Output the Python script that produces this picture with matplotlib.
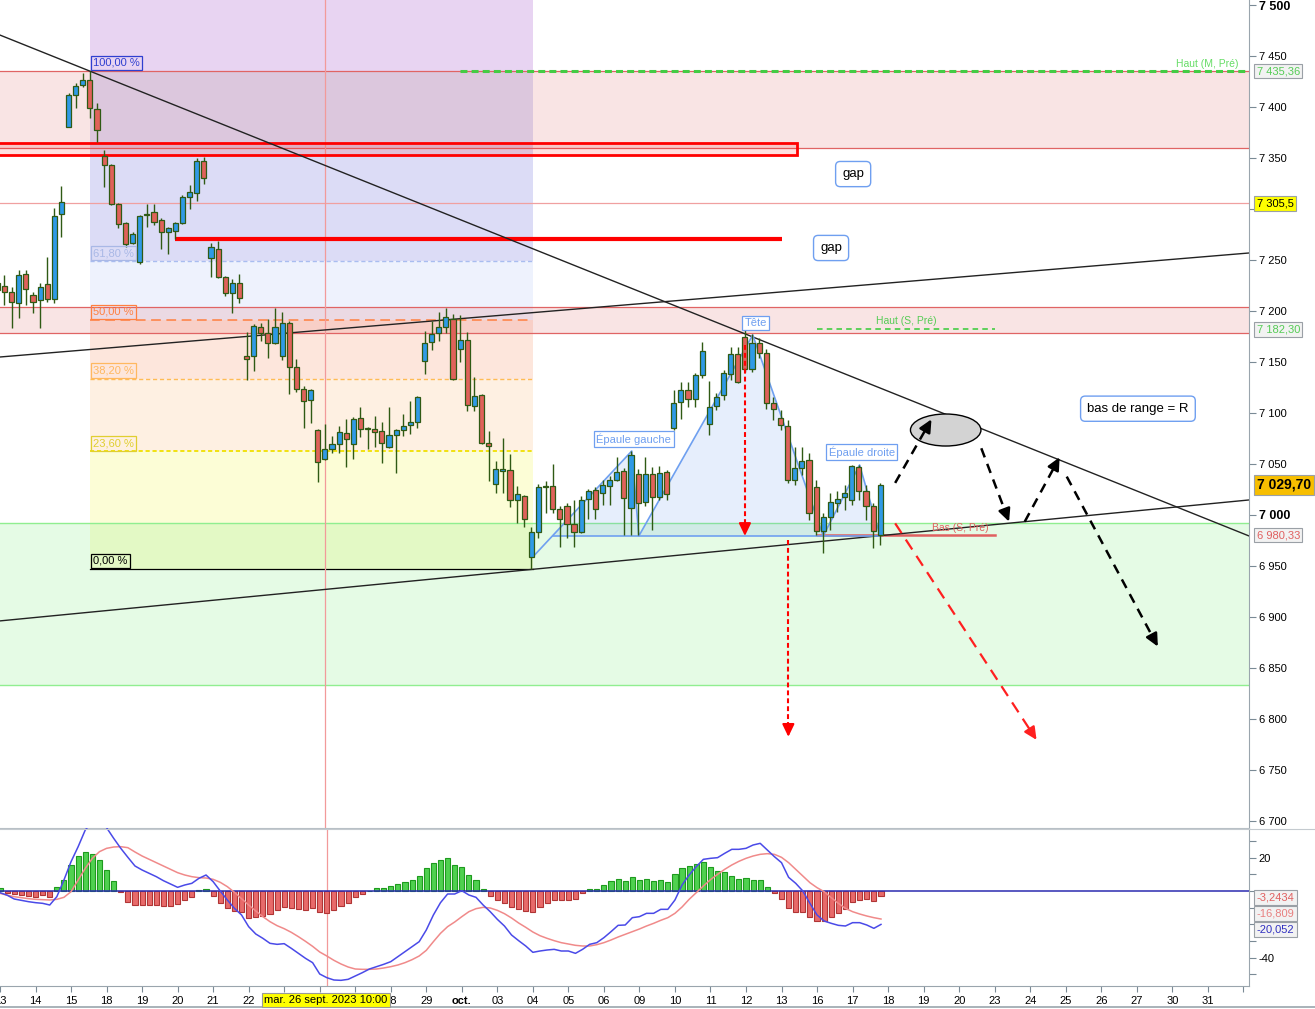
import numpy as np
import matplotlib
matplotlib.use("Agg")
import matplotlib.pyplot as plt
from matplotlib.patches import Rectangle, Polygon, Ellipse
from matplotlib.lines import Line2D

plt.rcParams['font.family'] = ['Liberation Sans', 'DejaVu Sans']
plt.rcParams['lines.scale_dashes'] = False

# ---------------- data (CAC 40, 2h candles, 5 per day) ----------------
# 25, 26 and 27 sept sit under the crosshair date box in the original
day_labels = ['13', '14', '15', '18', '19', '20', '21', '22', '', '', '', '28', '29',
              'oct.', '03', '04', '05', '06', '09', '10', '11', '12', '13', '16', '17',
              '18', '19', '20', '23', '24', '25', '26', '27', '30', '31']
bars_per_day = 5

opens = [7227, 7225, 7219, 7208, 7236, 7216, 7211, 7226, 7212, 7295,
         7380, 7412, 7422, 7427, 7398, 7352, 7343, 7305, 7286, 7267,
         7248, 7294, 7297, 7289, 7277, 7278, 7286, 7312, 7316, 7347,
         7252, 7261, 7233, 7218, 7227, 7156, 7156, 7184, 7178, 7169,
         7156, 7188, 7145, 7124, 7113, 7083, 7055, 7065, 7070, 7080,
         7070, 7095, 7084, 7084, 7082, 7067, 7078, 7083, 7088, 7091,
         7151, 7170, 7178, 7184, 7192, 7163, 7172, 7107, 7118, 7071,
         7030, 7043, 7044, 7015, 7019, 6959, 6983, 7027, 7028, 7006,
         7009, 6991, 6983, 7016, 7024, 7022, 7028, 7034, 7043, 7007,
         7040, 7013, 7040, 7018, 7042, 7085, 7111, 7123, 7114, 7137,
         7089, 7107, 7118, 7138, 7158, 7175, 7143, 7169, 7159, 7110,
         7095, 7087, 7034, 7046, 7054, 7027, 6984, 6998, 7012, 7018,
         7015, 7047, 7023, 7009, 6980]
highs = [7230, 7235, 7224, 7240, 7240, 7219, 7227, 7253, 7301, 7323,
         7414, 7424, 7433, 7435, 7404, 7358, 7344, 7306, 7287, 7277,
         7294, 7305, 7305, 7291, 7282, 7287, 7314, 7324, 7350, 7351,
         7267, 7269, 7234, 7231, 7236, 7179, 7187, 7188, 7192, 7203,
         7199, 7190, 7153, 7126, 7124, 7084, 7089, 7077, 7087, 7094,
         7096, 7106, 7086, 7097, 7091, 7106, 7084, 7099, 7112, 7117,
         7180, 7190, 7199, 7203, 7197, 7196, 7179, 7135, 7119, 7082,
         7053, 7075, 7060, 7028, 7020, 6988, 7030, 7033, 7050, 7009,
         7012, 7015, 7019, 7025, 7027, 7034, 7038, 7057, 7046, 7063,
         7045, 7057, 7047, 7048, 7044, 7123, 7130, 7130, 7139, 7170,
         7131, 7120, 7142, 7165, 7165, 7182, 7177, 7174, 7163, 7116,
         7103, 7093, 7067, 7067, 7061, 7034, 7002, 7022, 7023, 7029,
         7049, 7049, 7029, 7012, 7031]
lows = [7211, 7206, 7183, 7193, 7206, 7198, 7183, 7209, 7208, 7273,
        7380, 7399, 7420, 7389, 7366, 7322, 7304, 7281, 7263, 7266,
        7246, 7282, 7284, 7261, 7256, 7271, 7285, 7300, 7308, 7325,
        7233, 7232, 7215, 7198, 7208, 7132, 7141, 7171, 7154, 7168,
        7152, 7119, 7121, 7085, 7090, 7032, 7054, 7061, 7061, 7047,
        7055, 7076, 7065, 7067, 7051, 7066, 7041, 7077, 7079, 7085,
        7138, 7162, 7171, 7178, 7132, 7150, 7102, 7102, 7070, 7033,
        7022, 7022, 7008, 6992, 6988, 6947, 6977, 7002, 7002, 6969,
        6977, 6969, 6982, 6996, 6996, 7010, 7010, 7033, 6980, 6980,
        6980, 7009, 6985, 7015, 7015, 7083, 7094, 7106, 7106, 7134,
        7078, 7103, 7113, 7132, 7129, 7140, 7140, 7154, 7104, 7093,
        7083, 7031, 7029, 7039, 6995, 6980, 6963, 6985, 7003, 7005,
        7010, 7015, 6995, 6968, 6971]
closes = [7221, 7219, 7209, 7235, 7222, 7209, 7224, 7212, 7293, 7307,
          7412, 7421, 7427, 7399, 7378, 7343, 7305, 7285, 7266, 7276,
          7293, 7295, 7287, 7277, 7281, 7286, 7312, 7317, 7347, 7330,
          7263, 7233, 7218, 7227, 7213, 7153, 7185, 7178, 7169, 7184,
          7188, 7145, 7124, 7112, 7123, 7052, 7065, 7070, 7081, 7074,
          7094, 7084, 7085, 7081, 7071, 7078, 7083, 7087, 7091, 7116,
          7169, 7177, 7184, 7194, 7133, 7172, 7108, 7117, 7071, 7068,
          7045, 7045, 7015, 7021, 6996, 6983, 7027, 7028, 7006, 6996,
          6991, 6983, 7015, 7023, 7006, 7029, 7034, 7042, 7017, 7059,
          7012, 7040, 7018, 7041, 7021, 7110, 7123, 7114, 7137, 7161,
          7106, 7116, 7139, 7158, 7130, 7143, 7169, 7159, 7110, 7104,
          7088, 7034, 7046, 7053, 7002, 6984, 6998, 7013, 7016, 7022,
          7048, 7023, 7009, 6984, 7029.7]

macd_hist = [1.6, -1.4, -2, -2.4, -3, -3.4, -2.6, -3.4,
             2.2, 6.4, 15.6, 21, 23.2, 22, 18.4, 12.4, 5.8,
             -0.8, -6.4, -8.6, -8.6, -8.6, -8.6, -9.2, -9.2, -8, -5.6, -3.8,
             0.4, 1.2,
             -3, -7, -10.4, -11.8, -12.6, -16.4, -15.8, -14.8, -14, -11.4, -9.4,
             -10, -11, -11.4, -10.4, -12.8, -13.4, -11.4, -9, -7, -3.8, -1.8,
             0,
             1.6, 1.6, 3, 4.2, 5.4, 6.4, 9, 13.6, 16.6, 18.6, 19.6,
             15.6, 14.6, 9.6, 6.4, 1.2,
             -2.8, -5.6, -7.4, -9.8, -10.6, -11.8, -12.8, -9.4, -7, -5.6, -5.2, -5.2, -4.6, -1.4,
             1.2, 1.2, 3.4, 6, 7, 5.8, 8.4, 6.6, 7, 5.8, 6.4, 5.2, 10, 13.8, 15, 16.4,
             17.2, 14.2, 12, 11.2, 9, 7, 7.6, 6.4, 6.4, 2.4,
             -1.4, -5, -10.4, -12.6, -12.6, -15.8, -18.2, -18.2, -15.8, -13.4, -11,
             -6.8, -5.6, -5, -6.2, -3.24]
macd_line = [-1, -2.5, -4.8, -5.6, -6.4, -7, -7.4, -8.4,
             -3.4, 6.6, 17.6, 26.6, 36.6, 41.6, 42, 38,
             31.6, 25.6, 20.2, 15, 12.6, 10.6, 8.6, 6.2, 4.2, 2.2, 3.6, 4.6, 7.6, 9.6, 5.6, 0,
             -5.4, -10.4, -14.4, -21.4, -25.8, -28.4, -31.4, -32, -31.6, -34.4, -37.4, -40.4, -43, -49.8, -52, -53.4,
             -53.6, -53, -51, -49, -46.8, -45.4, -44, -42.4, -39.4, -36.4, -33.4, -30.4, -23.4, -14.4, -7, -1.8,
             -1.8, 0.2, -2.4, -3.8, -8.4, -12.4, -17, -21, -26.4, -29.8, -33, -36.8, -36, -35.4, -35, -36,
             -36, -37.4, -35, -32, -31, -28, -24.4, -20.6, -20.4, -16, -15.4, -13.4, -13.4, -11, -11, -5.4,
             3.6, 9.6, 14.6, 19, 19.6, 20, 22.6, 25, 25, 25.6, 27.6, 28.6, 24.6, 20.6, 17, 8.2,
             4.6, 0, -7.4, -14.4, -18, -19.4, -20.6, -21, -19, -19, -20.4, -22.4, -20.05]
signal_line = [-1.4, -2.5, -3.4, -4, -4.6, -5, -5.2, -5.4,
               -5, -3.8, -0.4, 6.6, 13.6, 19.6, 23.6, 25.6,
               26.4, 26.6, 26, 23.4, 21, 19, 17, 15, 13, 11, 9.6, 8.6, 8, 7.8, 7, 5.2,
               2.6, -0.8, -4.6, -8.4, -12, -15.4, -18.4, -20.8, -22.6, -24.8, -27.4, -30.2, -33.2, -36.6, -39, -41.6,
               -43.8, -45.6, -46.8, -47, -47, -46.8, -46.2, -45.4, -44.4, -43, -41.2, -39, -35.6, -30.4, -25.4, -21.4,
               -18.6, -15.4, -12.4, -10.6, -9.8, -10.2, -11.6, -13.6, -16.2, -19.2, -21.8, -24.6, -26.8, -28.4, -29.8, -31,
               -31.8, -32.6, -33, -33, -32.2, -31, -29.4, -27.6, -26, -24.4, -22.8, -21, -19.4, -17.6, -16, -13.4,
               -9.6, -5, -1, 3, 6.8, 10, 13, 15.6, 17.8, 19.6, 21, 22, 22.4, 22, 20.2, 17,
               13, 9, 5, 2, -0.4, -4, -7.4, -10.4, -12.4, -13.8, -15, -16, -16.81]

# levels / drawings (price units, x in bar index)
haut_m, haut_s, bas_s, last_close = 7435.36, 7182.30, 6980.33, 7029.70
level_7305 = 7305.5
fib_top, fib_bottom = 7435.36, 6947
fib_ratios = [1.0, 0.618, 0.5, 0.382, 0.236, 0.0]
fib_names = ['100,00 %', '61,80 %', '50,00 %', '38,20 %', '23,60 %', '0,00 %']
fib_x = (13.0, 75.2)
pink_zones = [(7360, 7435.36), (7178.4, 7204)]
green_zone = (6833, 6992)
gap_rect = (7353, 7365, 112.3)
gap_line = (7270.6, 24.9, 110.2)
trend_lines = [[(0.37, 7470.6), (175.8, 6979.4)],
               [(0.37, 7154.9), (175.8, 7256.9)],
               [(0.37, 6896.1), (175.8, 7014.7)]]
hs_points = [(75.2, 6958.8), (89.1, 7062.7), (90.1, 6979.4), (106.1, 7176.5),
             (116.0, 6979.4), (121.1, 7049), (124.0, 6979.4), (78.0, 6979.4)]
crosshair_x = 46.0
# the three MACD value tags are stacked on the scale, not at their exact values
macd_tag_pos = [-3.8, -13.3, -23.3]

# ---------------- figure ----------------
W, H = 1315, 1009
fig = plt.figure(figsize=(W / 100, H / 100), dpi=100)
ax = fig.add_axes([0, 1 - 828 / H, 1249 / W, 828 / H])
ax2 = fig.add_axes([0, 1 - 986 / H, 1249 / W, 158 / H])
xlim = (0.37, 175.8)
for a in (ax, ax2):
    a.set_xlim(*xlim)
    a.set_facecolor('white')
    for s in ('left', 'top', 'bottom'):
        a.spines[s].set_visible(False)
    a.spines['right'].set_color('#9aa5ad')
    a.yaxis.tick_right()
    a.tick_params(axis='y', length=5, width=0.8, color='#7a8a95', pad=2, labelsize=8)
ax.set_ylim(6693, 7505)
ax2.set_ylim(-57, 37.8)
ax.set_xticks([])
ax2.spines['top'].set_visible(True)
ax2.spines['top'].set_color('#b8c0c6')
ax2.spines['bottom'].set_visible(True)
ax2.spines['bottom'].set_color('#9aa5ad')

# frame lines running into the scale area
fig.add_artist(Line2D([0, 1], [1 - 828.5 / H] * 2, color='#c4cacf', lw=0.8))
fig.add_artist(Line2D([0, 1], [1 - 1007 / H] * 2, color='#9aa5ad', lw=1.2))

# price ticks (7 300 is covered by the 7 305,5 tag)
pticks = list(range(6700, 7501, 50))
ax.set_yticks(pticks)
ax.set_yticklabels(['' if t == 7300 else f"{t:,}".replace(',', ' ') for t in pticks])
for t, lab in zip(pticks, ax.get_yticklabels()):
    if t % 500 == 0:
        lab.set_fontweight('bold')
        lab.set_fontsize(9)

# fib fills
fx0, fx1 = fib_x
fib_levels = [fib_bottom + r * (fib_top - fib_bottom) for r in fib_ratios]
band_colors = ['#dcdcf6', '#eef2fd', '#fde6dc', '#fef0e2', '#fcfdd6']
ax.add_patch(Rectangle((fx0, fib_top), fx1 - fx0, 7510 - fib_top, fc='#e8d4f2', ec='none', zorder=0.5))
for k in range(5):
    ax.add_patch(Rectangle((fx0, fib_levels[k + 1]), fx1 - fx0, fib_levels[k] - fib_levels[k + 1],
                           fc=band_colors[k], ec='none', zorder=0.5))

# horizontal zones
for lo, hi in pink_zones:
    ax.axhspan(lo, hi, color='#e06060', alpha=0.165, lw=0, zorder=0.6)
    ax.axhline(lo, color='#e06464', lw=0.9, zorder=0.7)
    ax.axhline(hi, color='#e06464', lw=0.9, zorder=0.7)
ax.axhspan(*green_zone, color='#90ee90', alpha=0.23, lw=0, zorder=0.6)
ax.axhline(green_zone[0], color='#90ee90', lw=1, zorder=0.7)
ax.axhline(green_zone[1], color='#90ee90', lw=1, zorder=0.7)
ax.axhline(level_7305, color='#f0a0a0', lw=0.9, zorder=0.7)

# fib lines and labels
fib_styles = [None, ('#a9bdf0', (3, 2), 1.0), ('#ff7f3f', (7, 4), 1.1),
              ('#ffbb55', (3, 2), 1.0), ('#f0e000', (3, 2), 1.3), ('black', None, 0.9)]
fib_text_colors = ['#2f3fd0', '#a9b8e6', '#ff8040', '#ffb860', '#e0cf30', 'black']
for lvl, st, name, tc in zip(fib_levels, fib_styles, fib_names, fib_text_colors):
    if st is not None:
        c, d, lw = st
        if d:
            ax.plot([fx0, fx1], [lvl, lvl], color=c, lw=lw, dashes=d, zorder=1)
        else:
            ax.plot([fx0, fx1], [lvl, lvl], color=c, lw=lw, zorder=1)
    ax.annotate(name, xy=(fx0, lvl), xytext=(2.2, 2.2), textcoords='offset points',
                ha='left', va='bottom', fontsize=8, color=tc, zorder=6,
                bbox=dict(boxstyle='square,pad=0.2', fc='none', ec=tc, lw=0.9))

# gap rectangle and thick line
glo, ghi, gx1 = gap_rect
ax.add_patch(Rectangle((-5, glo), gx1 + 5, ghi - glo, fc=(1, 0, 0, 0.12), ec='#ff0000', lw=2, zorder=2))
gl, gx0, gx1b = gap_line
ax.plot([gx0, gx1b], [gl, gl], color='#ff0000', lw=3, solid_capstyle='butt', zorder=2)

# previous highs / lows
ax.plot([65.0, xlim[1]], [haut_m, haut_m], color='#44cc44', lw=2.2, dashes=(5, 3), zorder=2)
ax.text(174.3, haut_m + 2, 'Haut (M, Pré)', color='#66dd66', fontsize=7.5, ha='right', va='bottom', zorder=6)
ax.plot([115.1, 140.1], [haut_s, haut_s], color='#44cc44', lw=1.2, dashes=(4, 3), zorder=2)
ax.text(127.6, haut_s + 3, 'Haut (S, Pré)', color='#55cc55', fontsize=7.5, ha='center', va='bottom', zorder=6)
ax.plot([115.1, 140.1], [bas_s, bas_s], color='#e06060', lw=1.8, zorder=2)
ax.text(135.2, bas_s + 2, 'Bas (S, Pré)', color='#e06060', fontsize=7.5, ha='center', va='bottom', zorder=6)

# trend lines
for (x0, y0), (x1, y1) in trend_lines:
    ax.plot([x0, x1], [y0, y1], color='#222222', lw=1.0, zorder=2.5)

# crosshair
for a in (ax, ax2):
    a.axvline(crosshair_x, color='#f29a9a', lw=0.9, zorder=1.5)

# head & shoulders
ax.add_patch(Polygon(hs_points, closed=True, fc='#6699ee', alpha=0.16, ec='none', zorder=1.2))
hx = [p[0] for p in hs_points[:7]]
hy = [p[1] for p in hs_points[:7]]
ax.plot(hx, hy, color='#6fa0f0', lw=1.2, zorder=2.6)
ax.plot([hs_points[7][0], hs_points[6][0]], [hs_points[7][1], hs_points[6][1]], color='#6fa0f0', lw=1.2, zorder=2.6)

# candles
xs = np.arange(len(opens))
o = np.array(opens); c = np.array(closes)
up = c >= o
ax.vlines(xs, lows, highs, color='#2f5a14', lw=1.0, zorder=3)
bottoms = np.minimum(o, c)
heights = np.maximum(np.abs(c - o), 0.8)
ax.bar(xs, heights, bottom=bottoms, width=0.72, color=np.where(up, '#2f9ae6', '#e0625a'),
       edgecolor='#2f5a14', linewidth=0.9, zorder=4)

# labels on the pattern
box_blue = dict(boxstyle='square,pad=0.2', fc='white', ec='#6f9ff0', lw=0.9)
ax.text(106.5, 7188.2, 'Tête', color='#6f9ff0', fontsize=8, ha='center', va='center', bbox=box_blue, zorder=7)
ax.text(89.4, 7074.4, 'Épaule gauche', color='#6f9ff0', fontsize=8, ha='center', va='center', bbox=box_blue, zorder=7)
ax.text(121.4, 7061.8, 'Épaule droite', color='#6f9ff0', fontsize=8, ha='center', va='center', bbox=box_blue, zorder=7)

round_box = dict(boxstyle='round,pad=0.5,rounding_size=0.35', fc='white', ec='#6f9ff0', lw=1)
ax.text(120.2, 7334.3, 'gap', fontsize=9.5, ha='center', va='center', bbox=round_box, zorder=7)
ax.text(117.1, 7261.8, 'gap', fontsize=9.5, ha='center', va='center', bbox=round_box, zorder=7)
ax.text(160.2, 7104.2, 'bas de range = R', fontsize=9.5, ha='center', va='center', bbox=round_box, zorder=7)

ax.add_patch(Ellipse((133.2, 7083.3), 9.9, 31.4, fc='#d3d3d3', ec='black', lw=1, zorder=5))

# arrows
fig.canvas.draw()
def arrow(p0, p1, color, dashes, lw):
    (x0, y0), (x1, y1) = p0, p1
    a0 = ax.transData.transform((x0, y0)); a1 = ax.transData.transform((x1, y1))
    L = np.hypot(*(a1 - a0))
    f = 1 - 10.5 / L
    xm, ym = x0 + (x1 - x0) * f, y0 + (y1 - y0) * f
    ax.plot([x0, xm], [y0, ym], color=color, lw=lw, dashes=dashes, zorder=6)
    ax.annotate('', xy=(x1, y1), xytext=(xm, ym), zorder=6,
                arrowprops=dict(arrowstyle='-|>,head_length=0.75,head_width=0.36', color=color,
                                lw=lw, shrinkA=0, shrinkB=0, mutation_scale=10))

arrow((105.0, 7166.7), (105.0, 6979.4), '#ff0000', (3.5, 2.2), 1.5)
arrow((111.1, 6975.5), (111.1, 6782.4), '#ff0000', (3.5, 2.2), 1.5)
arrow((126.1, 6991.8), (145.96, 6779.4), '#ff2020', (8.5, 5.5), 1.6)
arrow((126.1, 7031.4), (131.2, 7093.8), 'black', (7, 5), 1.8)
arrow((138.2, 7065.4), (142.1, 6993.4), 'black', (7, 5), 1.8)
arrow((144.3, 6993.4), (149.2, 7056.6), 'black', (7, 5), 1.8)
arrow((150.2, 7037.6), (163.0, 6870.9), 'black', (7, 5), 1.8)

# right value boxes
def right_box(a, y, txt, tc, fc, fs=8, bold=False):
    a.annotate(txt, xy=(1, y), xycoords=('axes fraction', 'data'), xytext=(5.5, 0),
               textcoords='offset points', ha='left', va='center', fontsize=fs, color=tc,
               fontweight='bold' if bold else 'normal', annotation_clip=False, zorder=10,
               bbox=dict(boxstyle='square,pad=0.22', fc=fc, ec='#9aa0a6', lw=0.8))

right_box(ax, haut_m, '7 435,36', '#55cc55', '#f2f2f2')
right_box(ax, level_7305, '7 305,5', 'black', '#ffff00')
right_box(ax, haut_s, '7 182,30', '#55cc55', '#f2f2f2')
right_box(ax, last_close, '7 029,70', 'black', '#f7be00', fs=10, bold=True)
right_box(ax, bas_s, '6 980,33', '#e06060', '#f2f2f2')

# MACD panel
ax2.bar(xs, macd_hist, width=0.72, color=['#4fd14f' if v >= 0 else '#e86a6a' for v in macd_hist],
        edgecolor=['#1e9a1e' if v >= 0 else '#b03535' for v in macd_hist], linewidth=0.8, zorder=2)
ax2.axhline(0, color='#2b2bb0', lw=1.1, zorder=3)
ax2.plot(xs, signal_line, color='#f08a8a', lw=1.1, zorder=4)
ax2.plot(xs, macd_line, color='#4a4ae8', lw=1.1, zorder=5)
# 0 and -20 labels sit under the value tags
ax2.set_yticks([20, 0, -20, -40])
ax2.set_yticklabels(['20', '', '', '-40'])
ax2.set_yticks([30, 10, -10, -30, -50], minor=True)
ax2.tick_params(axis='y', which='minor', length=5, width=0.8, color='#7a8a95')
right_box(ax2, macd_tag_pos[0], '-3,2434', '#e06060', '#f2f2f2')
right_box(ax2, macd_tag_pos[1], '-16,809', '#e88080', '#f2f2f2')
right_box(ax2, macd_tag_pos[2], '-20,052', '#3030c0', '#f2f2f2')

# date axis
day_ticks = [d * bars_per_day for d in range(len(day_labels) + 1)]
ax2.set_xticks(day_ticks)
ax2.set_xticklabels(day_labels + [''])
ax2.tick_params(axis='x', length=4, width=0.8, color='#7a8a95', pad=3, labelsize=8)
for lab in ax2.get_xticklabels():
    if lab.get_text() == 'oct.':
        lab.set_fontweight('bold')
fig.text(326 / W, 1 - 1000 / H, 'mar. 26 sept. 2023 10:00', fontsize=8, ha='center', va='center', zorder=20,
         bbox=dict(boxstyle='square,pad=0.2', fc='#ffff00', ec='#999999', lw=0.8))

fig.savefig('out.png', dpi=100)
